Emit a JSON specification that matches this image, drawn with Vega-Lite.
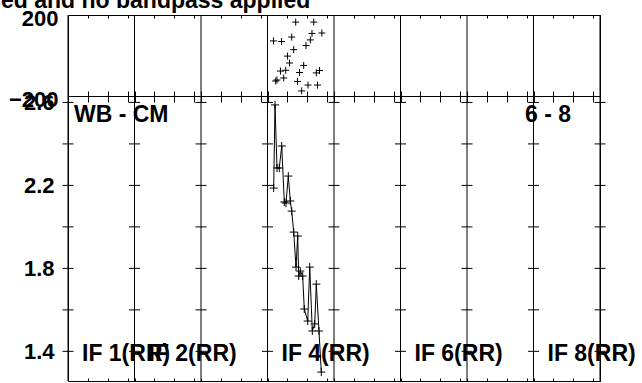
{
  "$schema": "https://vega.github.io/schema/vega-lite/v6.json",
  "autosize": {"type": "pad"},
  "padding": {"left": 0, "top": -11, "right": 0, "bottom": 0},
  "background": "white",
  "bounds": "flush",
  "spacing": 0,
  "config": {
    "font": "Liberation Sans",
    "view": {"stroke": "black", "strokeWidth": 1},
    "axis": {"labelFont": "Liberation Sans", "labelFontSize": 22, "labelFontWeight": "bold", "labelColor": "black", "tickColor": "black", "domain": false, "grid": false, "labelFlush": false, "labelOverlap": false, "labelBound": false}
  },
  "datasets": {
    "borders": [{"b": 0}, {"b": 1}, {"b": 2}, {"b": 3}, {"b": 4}, {"b": 5}, {"b": 6}, {"b": 7}, {"b": 8}],
    "phase": [
      {"x": 3.090, "p": 72}, {"x": 3.123, "p": -126}, {"x": 3.143, "p": -121}, {"x": 3.195, "p": -77},
      {"x": 3.211, "p": 69}, {"x": 3.244, "p": -111}, {"x": 3.274, "p": -73}, {"x": 3.301, "p": -3},
      {"x": 3.331, "p": -37}, {"x": 3.364, "p": 91}, {"x": 3.394, "p": 29}, {"x": 3.424, "p": 165},
      {"x": 3.451, "p": -128}, {"x": 3.481, "p": -84}, {"x": 3.514, "p": -175}, {"x": 3.544, "p": -49},
      {"x": 3.579, "p": 49}, {"x": 3.609, "p": -146}, {"x": 3.644, "p": 77}, {"x": 3.669, "p": 109},
      {"x": 3.695, "p": 165}, {"x": 3.734, "p": -86}, {"x": 3.752, "p": -146}, {"x": 3.782, "p": -74},
      {"x": 3.817, "p": 111}
    ],
    "amp": [
      {"x": 3.093, "a": 2.187}, {"x": 3.113, "a": 2.588}, {"x": 3.143, "a": 2.284}, {"x": 3.177, "a": 2.284},
      {"x": 3.214, "a": 2.390}, {"x": 3.253, "a": 2.120}, {"x": 3.278, "a": 2.115}, {"x": 3.313, "a": 2.245},
      {"x": 3.343, "a": 2.125}, {"x": 3.364, "a": 2.076}, {"x": 3.394, "a": 1.975}, {"x": 3.429, "a": 1.806},
      {"x": 3.454, "a": 1.956}, {"x": 3.469, "a": 1.763}, {"x": 3.493, "a": 1.787}, {"x": 3.529, "a": 1.763},
      {"x": 3.553, "a": 1.604}, {"x": 3.605, "a": 1.546}, {"x": 3.635, "a": 1.806}, {"x": 3.674, "a": 1.498},
      {"x": 3.710, "a": 1.532}, {"x": 3.734, "a": 1.724}, {"x": 3.774, "a": 1.498}, {"x": 3.809, "a": 1.300}
    ],
    "yticks": [
      {"b": 0, "v": 1.4}, {"b": 0, "v": 1.6}, {"b": 0, "v": 1.8}, {"b": 0, "v": 2.0}, {"b": 0, "v": 2.2}, {"b": 0, "v": 2.4}, {"b": 0, "v": 2.6},
      {"b": 1, "v": 1.4}, {"b": 1, "v": 1.6}, {"b": 1, "v": 1.8}, {"b": 1, "v": 2.0}, {"b": 1, "v": 2.2}, {"b": 1, "v": 2.4}, {"b": 1, "v": 2.6},
      {"b": 2, "v": 1.4}, {"b": 2, "v": 1.6}, {"b": 2, "v": 1.8}, {"b": 2, "v": 2.0}, {"b": 2, "v": 2.2}, {"b": 2, "v": 2.4}, {"b": 2, "v": 2.6},
      {"b": 3, "v": 1.4}, {"b": 3, "v": 1.6}, {"b": 3, "v": 1.8}, {"b": 3, "v": 2.0}, {"b": 3, "v": 2.2}, {"b": 3, "v": 2.4}, {"b": 3, "v": 2.6},
      {"b": 4, "v": 1.4}, {"b": 4, "v": 1.6}, {"b": 4, "v": 1.8}, {"b": 4, "v": 2.0}, {"b": 4, "v": 2.2}, {"b": 4, "v": 2.4}, {"b": 4, "v": 2.6},
      {"b": 5, "v": 1.4}, {"b": 5, "v": 1.6}, {"b": 5, "v": 1.8}, {"b": 5, "v": 2.0}, {"b": 5, "v": 2.2}, {"b": 5, "v": 2.4}, {"b": 5, "v": 2.6},
      {"b": 6, "v": 1.4}, {"b": 6, "v": 1.6}, {"b": 6, "v": 1.8}, {"b": 6, "v": 2.0}, {"b": 6, "v": 2.2}, {"b": 6, "v": 2.4}, {"b": 6, "v": 2.6},
      {"b": 7, "v": 1.4}, {"b": 7, "v": 1.6}, {"b": 7, "v": 1.8}, {"b": 7, "v": 2.0}, {"b": 7, "v": 2.2}, {"b": 7, "v": 2.4}, {"b": 7, "v": 2.6},
      {"b": 8, "v": 1.4}, {"b": 8, "v": 1.6}, {"b": 8, "v": 1.8}, {"b": 8, "v": 2.0}, {"b": 8, "v": 2.2}, {"b": 8, "v": 2.4}, {"b": 8, "v": 2.6}
    ],
    "iflabels": [
      {"k": 0, "t": "IF 1(RR)"}, {"k": 1, "t": "IF 2(RR)"}, {"k": 3, "t": "IF 4(RR)"}, {"k": 5, "t": "IF 6(RR)"}, {"k": 7, "t": "IF 8(RR)"}
    ],
    "corner": [{"k": 0, "t": "WB - CM"}],
    "corner2": [{"k": 6, "t": "6 - 8"}],
    "heading": [{"k": 0, "t": "ed and no bandpass applied"}]
  },
  "vconcat": [
    {
      "width": 532,
      "height": 81,
      "layer": [
        {
          "data": {"name": "borders"},
          "mark": {"type": "rule", "color": "black", "strokeWidth": 1},
          "encoding": {
            "x": {"field": "b", "type": "quantitative", "scale": {"domain": [0, 8], "nice": false, "zero": false},
              "axis": {"orient": "bottom", "title": null, "labels": false, "ticks": true, "tickSize": -5, "values": [0,0.3,0.6,0.9,1,1.3,1.6,1.9,2,2.3,2.6,2.9,3,3.3,3.6,3.9,4,4.3,4.6,4.9,5,5.3,5.6,5.9,6,6.3,6.6,6.9,7,7.3,7.6,7.9,8]}}
          }
        },
        {
          "mark": {"type": "rule", "color": "black", "strokeWidth": 1},
          "encoding": {"y": {"datum": 0, "type": "quantitative"}}
        },
        {
          "data": {"name": "heading"},
          "mark": {"type": "text", "align": "left", "baseline": "alphabetic", "dx": -67, "dy": -7, "fontSize": 23, "fontWeight": "bold", "font": "Liberation Sans", "color": "black"},
          "encoding": {
            "x": {"field": "k", "type": "quantitative", "axis": null},
            "y": {"datum": 200, "type": "quantitative"},
            "text": {"field": "t"}
          }
        },
        {
          "data": {"name": "phase"},
          "mark": {"type": "point", "shape": "M-1,0L1,0M0,-1L0,1", "size": 49, "stroke": "black", "strokeWidth": 1, "filled": false, "opacity": 1},
          "encoding": {
            "x": {"field": "x", "type": "quantitative",
              "axis": {"orient": "top", "title": null, "labels": false, "ticks": true, "tickSize": -3, "values": [0.3,0.6,0.9,1.3,1.6,1.9,2.3,2.6,2.9,3.3,3.6,3.9,4.3,4.6,4.9,5.3,5.6,5.9,6.3,6.6,6.9,7.3,7.6,7.9]}},
            "y": {"field": "p", "type": "quantitative", "scale": {"domain": [-200, 200], "nice": false},
              "axis": {"title": null, "values": [-200, 200], "ticks": false, "labelPadding": 10, "labelBaseline": "middle", "labelOffset": 3}}
          }
        }
      ],
      "resolve": {"axis": {"x": "independent"}}
    },
    {
      "width": 532,
      "height": 285,
      "layer": [
        {
          "data": {"name": "borders"},
          "mark": {"type": "rule", "color": "black", "strokeWidth": 1},
          "encoding": {
            "x": {"field": "b", "type": "quantitative", "scale": {"domain": [0, 8], "nice": false, "zero": false},
              "axis": {"orient": "bottom", "title": null, "labels": false, "ticks": true, "tickSize": -3, "values": [0,0.3,0.6,0.9,1,1.3,1.6,1.9,2,2.3,2.6,2.9,3,3.3,3.6,3.9,4,4.3,4.6,4.9,5,5.3,5.6,5.9,6,6.3,6.6,6.9,7,7.3,7.6,7.9,8]}}
          }
        },
        {
          "data": {"name": "yticks"},
          "mark": {"type": "tick", "orient": "horizontal", "size": 11, "thickness": 1, "color": "black", "opacity": 1},
          "encoding": {
            "x": {"field": "b", "type": "quantitative",
              "axis": {"orient": "top", "title": null, "labels": false, "ticks": true, "tickSize": -6, "values": [0,0.3,0.6,0.9,1,1.3,1.6,1.9,2,2.3,2.6,2.9,3,3.3,3.6,3.9,4,4.3,4.6,4.9,5,5.3,5.6,5.9,6,6.3,6.6,6.9,7,7.3,7.6,7.9,8]}},
            "y": {"field": "v", "type": "quantitative", "scale": {"domain": [1.257, 2.631], "nice": false, "zero": false},
              "axis": {"title": null, "values": [1.4, 1.8, 2.2, 2.6], "ticks": false, "labelPadding": 14, "labelBaseline": "middle", "format": ".1f"}}
          }
        },
        {
          "data": {"name": "amp"},
          "mark": {"type": "line", "color": "black", "strokeWidth": 1},
          "encoding": {
            "x": {"field": "x", "type": "quantitative", "axis": null},
            "y": {"field": "a", "type": "quantitative"}
          }
        },
        {
          "data": {"name": "amp"},
          "mark": {"type": "point", "shape": "M-1,0L1,0M0,-1L0,1", "size": 64, "stroke": "black", "strokeWidth": 1, "filled": false, "opacity": 1},
          "encoding": {
            "x": {"field": "x", "type": "quantitative", "axis": null},
            "y": {"field": "a", "type": "quantitative"}
          }
        },
        {
          "data": {"name": "iflabels"},
          "mark": {"type": "text", "align": "left", "baseline": "alphabetic", "dx": 14, "fontSize": 23, "fontWeight": "bold", "font": "Liberation Sans", "color": "black"},
          "encoding": {
            "x": {"field": "k", "type": "quantitative", "axis": null},
            "y": {"datum": 1.353, "type": "quantitative"},
            "text": {"field": "t"}
          }
        },
        {
          "data": {"name": "corner"},
          "mark": {"type": "text", "align": "left", "baseline": "alphabetic", "dx": 6, "fontSize": 23, "fontWeight": "bold", "font": "Liberation Sans", "color": "black"},
          "encoding": {
            "x": {"field": "k", "type": "quantitative", "axis": null},
            "y": {"datum": 2.506, "type": "quantitative"},
            "text": {"field": "t"}
          }
        },
        {
          "data": {"name": "corner2"},
          "mark": {"type": "text", "align": "left", "baseline": "alphabetic", "dx": 58, "fontSize": 23, "fontWeight": "bold", "font": "Liberation Sans", "color": "black"},
          "encoding": {
            "x": {"field": "k", "type": "quantitative", "axis": null},
            "y": {"datum": 2.506, "type": "quantitative"},
            "text": {"field": "t"}
          }
        }
      ],
      "resolve": {"axis": {"x": "independent"}}
    }
  ]
}
